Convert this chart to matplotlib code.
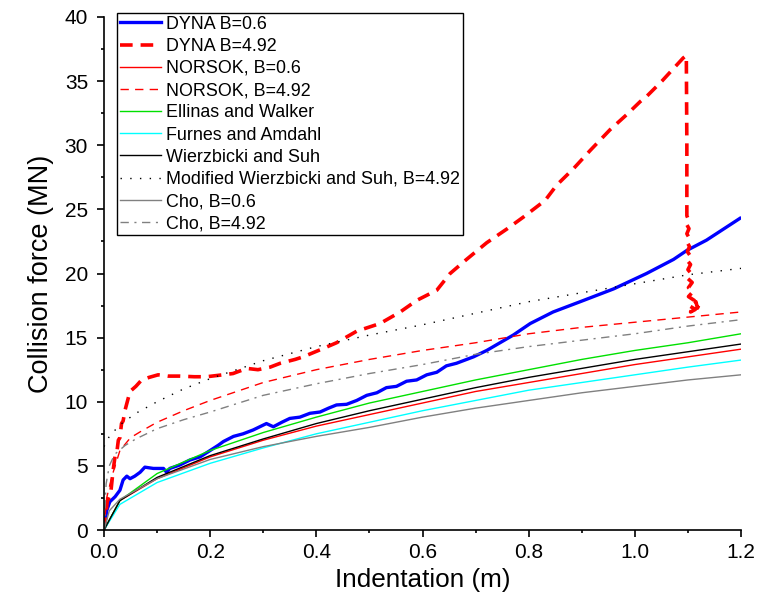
import matplotlib
matplotlib.use("Agg")
import matplotlib.pyplot as plt
from matplotlib.ticker import MultipleLocator

plt.rcParams['font.family'] = ['Liberation Sans', 'DejaVu Sans']

# ---- data ----
dyna06_x = [0, 0.002, 0.005, 0.011, 0.021, 0.030, 0.036, 0.043, 0.049, 0.058, 0.068, 0.077,
            0.093, 0.112, 0.118, 0.124, 0.143, 0.162, 0.181, 0.200, 0.215, 0.225, 0.244, 0.262,
            0.281, 0.306, 0.319, 0.335, 0.350, 0.369, 0.388, 0.407, 0.423, 0.438, 0.457, 0.476,
            0.495, 0.514, 0.532, 0.551, 0.570, 0.589, 0.608, 0.627, 0.645, 0.664, 0.696, 0.721,
            0.771, 0.803, 0.846, 0.897, 0.960, 1.022, 1.073, 1.098, 1.135, 1.198]
dyna06_y = [0, 0.5, 1.5, 2.2, 2.6, 3.1, 3.9, 4.2, 4.0, 4.2, 4.5, 4.9,
            4.8, 4.8, 4.5, 4.8, 5.07, 5.46, 5.7, 6.2, 6.6, 6.9, 7.3, 7.5,
            7.8, 8.3, 8.05, 8.4, 8.7, 8.8, 9.1, 9.2, 9.5, 9.75, 9.8, 10.1,
            10.5, 10.7, 11.1, 11.2, 11.6, 11.7, 12.1, 12.3, 12.8, 13.0, 13.5, 14.0,
            15.2, 16.1, 17.0, 17.8, 18.8, 20.0, 21.1, 21.8, 22.6, 24.3]

dyna492_x = [0, 0.003, 0.006, 0.010, 0.013, 0.017, 0.021, 0.024, 0.027, 0.030, 0.033, 0.036,
             0.040, 0.049, 0.060, 0.071, 0.085, 0.102, 0.120, 0.143, 0.170, 0.193, 0.224, 0.243,
             0.269, 0.290, 0.313, 0.332, 0.360, 0.375, 0.410, 0.438, 0.476, 0.520, 0.558, 0.589,
             0.627, 0.652, 0.683, 0.721, 0.760, 0.790, 0.831, 0.853, 0.885, 0.916, 0.953, 0.985,
             1.010, 1.022, 1.051, 1.091, 1.097, 1.098, 1.098,
             1.101, 1.098, 1.102, 1.098, 1.102, 1.099, 1.103, 1.099, 1.104, 1.099, 1.105,
             1.100, 1.106, 1.100, 1.108, 1.101, 1.110, 1.101, 1.112, 1.102, 1.114,
             1.105, 1.115, 1.118, 1.120]
dyna492_y = [0, 1.0, 2.2, 2.6, 3.0, 4.6, 5.8, 6.0, 7.0, 7.2, 8.3, 8.5,
             9.4, 10.8, 11.2, 11.7, 11.9, 12.1, 12.0, 12.0, 11.95, 11.95, 12.1, 12.2,
             12.6, 12.5, 12.7, 13.0, 13.3, 13.5, 14.1, 14.6, 15.5, 16.1, 17.0, 17.9,
             18.7, 20.0, 21.1, 22.4, 23.5, 24.4, 25.7, 26.9, 28.2, 29.6, 31.2, 32.4,
             33.4, 33.8, 35.0, 36.8, 37.0, 30.0, 24.5,
             24.2, 23.8, 23.5, 23.1, 22.8, 22.4, 22.1, 21.7, 21.4, 21.0, 20.7,
             20.3, 20.0, 19.6, 19.3, 18.9, 18.6, 18.2, 17.9, 17.5, 17.2,
             17.0, 17.8, 17.3, 17.5]

curve_x = [0, 0.03, 0.1, 0.2, 0.3, 0.4, 0.5, 0.6, 0.7, 0.8, 0.9, 1.0, 1.1, 1.2]
norsok06_y = [0, 2.3, 4.0, 5.7, 7.0, 8.1, 9.0, 9.9, 10.8, 11.5, 12.2, 12.9, 13.5, 14.1]
ellinas_y = [0, 2.3, 4.4, 6.2, 7.6, 8.8, 9.9, 10.8, 11.7, 12.5, 13.3, 14.0, 14.6, 15.3]
furnes_y = [0, 2.0, 3.7, 5.2, 6.4, 7.5, 8.4, 9.3, 10.1, 10.9, 11.5, 12.1, 12.7, 13.25]
wierz_y = [0, 2.3, 4.1, 5.8, 7.1, 8.3, 9.3, 10.2, 11.1, 11.9, 12.6, 13.3, 13.9, 14.5]

norsok492_x = [0, 0.005, 0.015, 0.03, 0.05, 0.07, 0.1, 0.15, 0.2, 0.3, 0.4, 0.5, 0.6, 0.7,
               0.8, 0.9, 1.0, 1.1, 1.2]
norsok492_y = [0, 2.5, 4.2, 6.2, 7.2, 7.7, 8.4, 9.3, 10.1, 11.5, 12.5, 13.3, 14.0, 14.6,
               15.3, 15.8, 16.2, 16.6, 17.0]

modwierz_x = [0, 0.01, 0.03, 0.06, 0.1, 0.15, 0.2, 0.3, 0.4, 0.5, 0.6, 0.7, 0.8, 0.9,
              1.0, 1.1, 1.2]
modwierz_y = [6.5, 7.3, 8.2, 9.1, 10.0, 11.0, 11.8, 13.2, 14.3, 15.2, 16.0, 16.9, 17.8, 18.5,
              19.2, 19.9, 20.4]

cho06_x = [0, 0.01, 0.03, 0.1, 0.2, 0.3, 0.4, 0.5, 0.6, 0.7, 0.8, 0.9, 1.0, 1.1, 1.2]
cho06_y = [0, 1.5, 2.4, 4.0, 5.5, 6.5, 7.3, 8.0, 8.8, 9.5, 10.1, 10.7, 11.2, 11.7, 12.1]

cho492_x = [0, 0.004, 0.01, 0.02, 0.04, 0.06, 0.1, 0.15, 0.2, 0.3, 0.4, 0.5, 0.6, 0.7,
            0.8, 0.9, 1.0, 1.1, 1.2]
cho492_y = [0, 3.6, 5.0, 5.9, 6.6, 7.1, 7.9, 8.6, 9.2, 10.5, 11.4, 12.2, 12.9, 13.7,
            14.3, 14.8, 15.3, 15.9, 16.4]

labels = ["DYNA B=0.6", "DYNA B=4.92", "NORSOK, B=0.6", "NORSOK, B=4.92",
          "Ellinas and Walker", "Furnes and Amdahl", "Wierzbicki and Suh",
          "Modified Wierzbicki and Suh, B=4.92", "Cho, B=0.6", "Cho, B=4.92"]

fig = plt.figure(figsize=(7.58, 6.11), dpi=100)
ax = fig.add_axes([104/758, 1-530/611, (741-104)/758, (530-17)/611])

ax.plot(dyna06_x, dyna06_y, color='#0000FF', lw=2.4, label=labels[0])
ax.plot(dyna492_x, dyna492_y, color='#FF0000', lw=2.6, dashes=(3.5, 2.2), label=labels[1])
ax.plot(curve_x, norsok06_y, color='#FF0000', lw=1.0, label=labels[2])
ax.plot(norsok492_x, norsok492_y, color='#FF0000', lw=1.0, dashes=(6, 4.5), label=labels[3])
ax.plot(curve_x, ellinas_y, color='#00E000', lw=1.0, label=labels[4])
ax.plot(curve_x, furnes_y, color='#00FFFF', lw=1.0, label=labels[5])
ax.plot(curve_x, wierz_y, color='black', lw=1.0, label=labels[6])
ax.plot(modwierz_x, modwierz_y, color='black', lw=1.0, dashes=(1, 6), label=labels[7])
ax.plot(cho06_x, cho06_y, color='#808080', lw=1.0, label=labels[8])
ax.plot(cho492_x, cho492_y, color='#808080', lw=1.0, dashes=(6, 4, 1.5, 4), label=labels[9])

ax.set_xlim(0, 1.2)
ax.set_ylim(0, 40)
ax.xaxis.set_major_locator(MultipleLocator(0.2))
ax.xaxis.set_minor_locator(MultipleLocator(0.1))
ax.yaxis.set_major_locator(MultipleLocator(5))
ax.yaxis.set_minor_locator(MultipleLocator(2.5))
ax.set_xticklabels([f"{v:.1f}" for v in ax.get_xticks()])

for s in ['top', 'right']:
    ax.spines[s].set_visible(False)
for s in ['left', 'bottom']:
    ax.spines[s].set_linewidth(1.2)
ax.tick_params(which='major', direction='out', length=5, width=1.2, labelsize=15)
ax.tick_params(which='minor', direction='out', length=2.5, width=1.2)
ax.tick_params(axis='y', which='major', pad=6.5)
ax.tick_params(axis='x', which='major', pad=4)

ax.set_xlabel("Indentation (m)", fontsize=18.8, labelpad=5)
ax.set_ylabel("Collision force (MN)", fontsize=19.5, labelpad=8)

leg = ax.legend(loc='upper left', bbox_to_anchor=(0.0204, 1.008), borderaxespad=0,
                fontsize=12.9, handlelength=2.3, handletextpad=0.3, borderpad=0.15,
                labelspacing=0.29, fancybox=False, frameon=True, edgecolor='black',
                framealpha=1)
leg.get_frame().set_linewidth(1.0)

fig.savefig("out.png", dpi=100)
